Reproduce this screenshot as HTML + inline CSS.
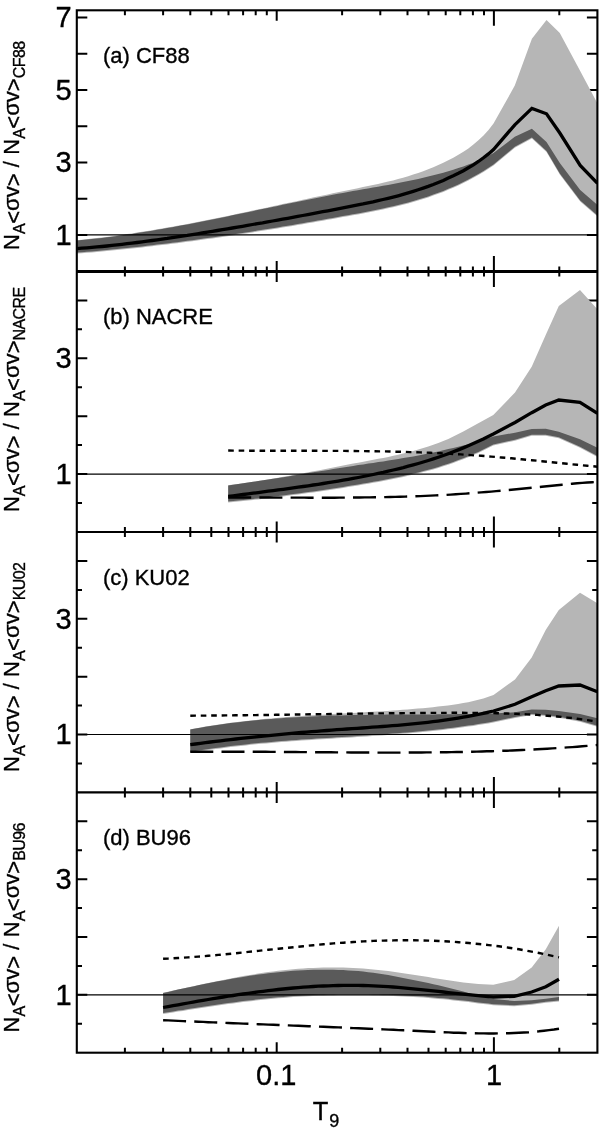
<!DOCTYPE html>
<html lang="en"><head><meta charset="utf-8"><title>Reaction rate ratios</title>
<style>html,body{margin:0;padding:0;background:#fff}svg{display:block}</style></head>
<body>
<svg width="600" height="1131" viewBox="0 0 600 1131">
<rect width="600" height="1131" fill="#fff"/>
<defs><clipPath id="cp"><rect x="76.8" y="10.3" width="520.6" height="1042.4"/></clipPath></defs>
<path d="M276.7 10.3L276.7 20.8M493.9 10.3L493.9 25.8M124.9 10.3L124.9 15.3M163.1 10.3L163.1 15.3M190.3 10.3L190.3 15.3M211.3 10.3L211.3 15.3M228.5 10.3L228.5 15.3M243.1 10.3L243.1 15.3M255.7 10.3L255.7 15.3M266.8 10.3L266.8 15.3M342.1 10.3L342.1 15.3M380.3 10.3L380.3 15.3M407.5 10.3L407.5 15.3M428.5 10.3L428.5 15.3M445.7 10.3L445.7 15.3M460.3 10.3L460.3 15.3M472.9 10.3L472.9 15.3M484.0 10.3L484.0 15.3M559.3 10.3L559.3 15.3M276.7 260.9L276.7 281.9M493.9 255.9L493.9 286.9M124.9 266.4L124.9 276.4M163.1 266.4L163.1 276.4M190.3 266.4L190.3 276.4M211.3 266.4L211.3 276.4M228.5 266.4L228.5 276.4M243.1 266.4L243.1 276.4M255.7 266.4L255.7 276.4M266.8 266.4L266.8 276.4M342.1 266.4L342.1 276.4M380.3 266.4L380.3 276.4M407.5 266.4L407.5 276.4M428.5 266.4L428.5 276.4M445.7 266.4L445.7 276.4M460.3 266.4L460.3 276.4M472.9 266.4L472.9 276.4M484.0 266.4L484.0 276.4M559.3 266.4L559.3 276.4M276.7 521.5L276.7 542.5M493.9 516.5L493.9 547.5M124.9 527.0L124.9 537.0M163.1 527.0L163.1 537.0M190.3 527.0L190.3 537.0M211.3 527.0L211.3 537.0M228.5 527.0L228.5 537.0M243.1 527.0L243.1 537.0M255.7 527.0L255.7 537.0M266.8 527.0L266.8 537.0M342.1 527.0L342.1 537.0M380.3 527.0L380.3 537.0M407.5 527.0L407.5 537.0M428.5 527.0L428.5 537.0M445.7 527.0L445.7 537.0M460.3 527.0L460.3 537.0M472.9 527.0L472.9 537.0M484.0 527.0L484.0 537.0M559.3 527.0L559.3 537.0M276.7 781.9L276.7 802.9M493.9 776.9L493.9 807.9M124.9 787.4L124.9 797.4M163.1 787.4L163.1 797.4M190.3 787.4L190.3 797.4M211.3 787.4L211.3 797.4M228.5 787.4L228.5 797.4M243.1 787.4L243.1 797.4M255.7 787.4L255.7 797.4M266.8 787.4L266.8 797.4M342.1 787.4L342.1 797.4M380.3 787.4L380.3 797.4M407.5 787.4L407.5 797.4M428.5 787.4L428.5 797.4M445.7 787.4L445.7 797.4M460.3 787.4L460.3 797.4M472.9 787.4L472.9 797.4M484.0 787.4L484.0 797.4M559.3 787.4L559.3 797.4M276.7 1042.2L276.7 1052.7M493.9 1037.2L493.9 1052.7M124.9 1047.7L124.9 1052.7M163.1 1047.7L163.1 1052.7M190.3 1047.7L190.3 1052.7M211.3 1047.7L211.3 1052.7M228.5 1047.7L228.5 1052.7M243.1 1047.7L243.1 1052.7M255.7 1047.7L255.7 1052.7M266.8 1047.7L266.8 1052.7M342.1 1047.7L342.1 1052.7M380.3 1047.7L380.3 1052.7M407.5 1047.7L407.5 1052.7M428.5 1047.7L428.5 1052.7M445.7 1047.7L445.7 1052.7M460.3 1047.7L460.3 1052.7M472.9 1047.7L472.9 1052.7M484.0 1047.7L484.0 1052.7M559.3 1047.7L559.3 1052.7M76.8 234.9L87.3 234.9M597.4 234.9L586.9 234.9M76.8 198.7L87.3 198.7M597.4 198.7L586.9 198.7M76.8 162.4L87.3 162.4M597.4 162.4L586.9 162.4M76.8 126.2L87.3 126.2M597.4 126.2L586.9 126.2M76.8 89.9L87.3 89.9M597.4 89.9L586.9 89.9M76.8 53.7L87.3 53.7M597.4 53.7L586.9 53.7M76.8 17.4L87.3 17.4M597.4 17.4L586.9 17.4M76.8 503.0L82.0 503.0M597.4 503.0L592.2 503.0M76.8 474.1L87.3 474.1M597.4 474.1L586.9 474.1M76.8 445.1L82.0 445.1M597.4 445.1L592.2 445.1M76.8 416.2L87.3 416.2M597.4 416.2L586.9 416.2M76.8 387.2L82.0 387.2M597.4 387.2L592.2 387.2M76.8 358.3L87.3 358.3M597.4 358.3L586.9 358.3M76.8 329.3L82.0 329.3M597.4 329.3L592.2 329.3M76.8 300.4L87.3 300.4M597.4 300.4L586.9 300.4M76.8 763.5L82.0 763.5M597.4 763.5L592.2 763.5M76.8 734.5L87.3 734.5M597.4 734.5L586.9 734.5M76.8 705.6L82.0 705.6M597.4 705.6L592.2 705.6M76.8 676.7L87.3 676.7M597.4 676.7L586.9 676.7M76.8 647.7L82.0 647.7M597.4 647.7L592.2 647.7M76.8 618.8L87.3 618.8M597.4 618.8L586.9 618.8M76.8 589.9L82.0 589.9M597.4 589.9L592.2 589.9M76.8 560.9L87.3 560.9M597.4 560.9L586.9 560.9M76.8 1023.7L82.0 1023.7M597.4 1023.7L592.2 1023.7M76.8 994.8L87.3 994.8M597.4 994.8L586.9 994.8M76.8 965.9L82.0 965.9M597.4 965.9L592.2 965.9M76.8 937.0L87.3 937.0M597.4 937.0L586.9 937.0M76.8 908.1L82.0 908.1M597.4 908.1L592.2 908.1M76.8 879.2L87.3 879.2M597.4 879.2L586.9 879.2M76.8 850.2L82.0 850.2M597.4 850.2L592.2 850.2M76.8 821.3L87.3 821.3M597.4 821.3L586.9 821.3" stroke="#000" stroke-width="2" fill="none"/>
<g clip-path="url(#cp)">
<polygon points="76.8,240.2 81.8,239.7 86.8,239.2 91.9,238.6 96.9,238.1 101.9,237.5 106.9,236.9 111.9,236.2 117.0,235.5 122.0,234.8 127.0,234.1 132.0,233.4 137.0,232.6 142.1,231.8 147.1,231.0 152.1,230.2 157.1,229.3 162.1,228.5 167.2,227.6 172.2,226.7 177.2,225.8 182.2,224.9 187.3,223.9 192.3,222.9 197.3,222.0 202.3,221.0 207.3,220.0 212.4,219.0 217.4,218.0 222.4,216.9 227.4,215.9 232.4,214.9 237.5,213.8 242.5,212.7 247.5,211.7 252.5,210.6 257.5,209.5 262.6,208.5 267.6,207.4 272.6,206.3 277.6,205.2 282.6,204.1 287.7,203.0 292.7,201.9 297.7,200.9 302.7,199.8 307.7,198.7 312.8,197.6 317.8,196.5 322.8,195.5 327.8,194.4 332.8,193.3 337.9,192.3 342.9,191.3 347.9,190.2 352.9,189.2 357.9,188.2 363.0,187.1 368.0,186.1 373.0,185.0 378.0,183.9 383.0,182.8 388.1,181.6 393.1,180.4 398.1,179.1 403.1,177.7 408.2,176.2 413.2,174.6 418.2,173.0 423.2,171.2 428.2,169.3 433.3,167.3 438.3,165.1 443.3,162.8 448.3,160.3 453.3,157.7 458.4,154.8 463.4,151.8 468.4,148.4 473.4,144.6 478.4,140.3 483.5,135.4 488.5,129.9 493.5,123.5 514.8,85.6 531.9,38.8 546.5,20.0 559.8,33.0 580.2,71.0 597.5,103.5 597.5,216.5 580.2,201.5 559.8,174.5 546.5,152.0 531.9,138.6 514.8,147.8 493.5,165.5 488.5,168.8 483.5,171.9 478.4,174.9 473.4,177.7 468.4,180.4 463.4,183.0 458.4,185.4 453.3,187.7 448.3,189.8 443.3,191.9 438.3,193.8 433.3,195.6 428.2,197.4 423.2,199.0 418.2,200.5 413.2,202.0 408.2,203.4 403.1,204.7 398.1,206.0 393.1,207.2 388.1,208.3 383.0,209.4 378.0,210.5 373.0,211.5 368.0,212.5 363.0,213.4 357.9,214.4 352.9,215.3 347.9,216.2 342.9,217.1 337.9,218.0 332.8,218.9 327.8,219.8 322.8,220.7 317.8,221.6 312.8,222.5 307.7,223.3 302.7,224.2 297.7,225.0 292.7,225.9 287.7,226.7 282.6,227.6 277.6,228.4 272.6,229.2 267.6,230.0 262.6,230.8 257.5,231.6 252.5,232.4 247.5,233.2 242.5,234.0 237.5,234.7 232.4,235.5 227.4,236.2 222.4,237.0 217.4,237.7 212.4,238.4 207.3,239.1 202.3,239.8 197.3,240.5 192.3,241.2 187.3,241.8 182.2,242.5 177.2,243.2 172.2,243.8 167.2,244.4 162.1,245.0 157.1,245.6 152.1,246.2 147.1,246.8 142.1,247.4 137.0,247.9 132.0,248.5 127.0,249.0 122.0,249.5 117.0,250.0 111.9,250.5 106.9,251.0 101.9,251.5 96.9,251.9 91.9,252.4 86.8,252.8 81.8,253.2 76.8,253.6" fill="#b6b6b6"/>
<polygon points="76.8,240.5 81.8,240.0 86.8,239.5 91.9,239.0 96.9,238.5 101.9,237.9 106.9,237.3 111.9,236.7 117.0,236.0 122.0,235.3 127.0,234.6 132.0,233.9 137.0,233.1 142.1,232.3 147.1,231.5 152.1,230.7 157.1,229.8 162.1,229.0 167.2,228.1 172.2,227.2 177.2,226.3 182.2,225.3 187.3,224.4 192.3,223.4 197.3,222.4 202.3,221.5 207.3,220.5 212.4,219.5 217.4,218.4 222.4,217.4 227.4,216.4 232.4,215.3 237.5,214.3 242.5,213.3 247.5,212.2 252.5,211.2 257.5,210.1 262.6,209.0 267.6,208.0 272.6,206.9 277.6,205.9 282.6,204.8 287.7,203.8 292.7,202.8 297.7,201.7 302.7,200.7 307.7,199.7 312.8,198.7 317.8,197.7 322.8,196.7 327.8,195.7 332.8,194.8 337.9,193.8 342.9,192.9 347.9,192.0 352.9,191.1 357.9,190.2 363.0,189.3 368.0,188.4 373.0,187.5 378.0,186.7 383.0,185.8 388.1,184.9 393.1,184.0 398.1,183.0 403.1,182.0 408.2,181.0 413.2,180.0 418.2,178.9 423.2,177.8 428.2,176.6 433.3,175.3 438.3,174.0 443.3,172.7 448.3,171.2 453.3,169.7 458.4,168.1 463.4,166.4 468.4,164.6 473.4,162.7 478.4,160.6 483.5,158.3 488.5,155.8 493.5,153.0 514.8,136.8 531.9,128.7 546.5,142.0 559.8,163.0 580.2,190.0 597.5,205.0 597.5,215.5 580.2,200.5 559.8,173.5 546.5,151.0 531.9,137.6 514.8,146.8 493.5,164.5 488.5,167.8 483.5,170.9 478.4,173.9 473.4,176.7 468.4,179.4 463.4,182.0 458.4,184.4 453.3,186.7 448.3,188.8 443.3,190.9 438.3,192.8 433.3,194.6 428.2,196.4 423.2,198.0 418.2,199.5 413.2,201.0 408.2,202.4 403.1,203.7 398.1,205.0 393.1,206.2 388.1,207.3 383.0,208.4 378.0,209.5 373.0,210.5 368.0,211.5 363.0,212.4 357.9,213.4 352.9,214.3 347.9,215.2 342.9,216.1 337.9,217.0 332.8,217.9 327.8,218.8 322.8,219.7 317.8,220.6 312.8,221.5 307.7,222.3 302.7,223.2 297.7,224.0 292.7,224.9 287.7,225.7 282.6,226.6 277.6,227.4 272.6,228.2 267.6,229.0 262.6,229.8 257.5,230.6 252.5,231.4 247.5,232.2 242.5,233.0 237.5,233.7 232.4,234.5 227.4,235.2 222.4,236.0 217.4,236.7 212.4,237.4 207.3,238.1 202.3,238.8 197.3,239.5 192.3,240.2 187.3,240.8 182.2,241.5 177.2,242.2 172.2,242.8 167.2,243.4 162.1,244.0 157.1,244.6 152.1,245.2 147.1,245.8 142.1,246.4 137.0,246.9 132.0,247.5 127.0,248.0 122.0,248.5 117.0,249.0 111.9,249.5 106.9,250.0 101.9,250.5 96.9,250.9 91.9,251.4 86.8,251.8 81.8,252.2 76.8,252.6" fill="#5a5a5a"/>
<line x1="76.8" x2="597.4" y1="234.9" y2="234.9" stroke="#000" stroke-width="1.2"/>
<polyline points="76.8,248.6 81.8,248.2 86.8,247.8 91.9,247.4 96.9,246.9 101.9,246.5 106.9,246.0 111.9,245.4 117.0,244.9 122.0,244.3 127.0,243.7 132.0,243.1 137.0,242.5 142.1,241.9 147.1,241.2 152.1,240.5 157.1,239.8 162.1,239.1 167.2,238.4 172.2,237.6 177.2,236.9 182.2,236.1 187.3,235.4 192.3,234.6 197.3,233.8 202.3,233.0 207.3,232.2 212.4,231.3 217.4,230.5 222.4,229.7 227.4,228.8 232.4,228.0 237.5,227.1 242.5,226.3 247.5,225.4 252.5,224.5 257.5,223.6 262.6,222.8 267.6,221.9 272.6,221.0 277.6,220.1 282.6,219.2 287.7,218.3 292.7,217.4 297.7,216.4 302.7,215.5 307.7,214.6 312.8,213.6 317.8,212.7 322.8,211.7 327.8,210.8 332.8,209.8 337.9,208.8 342.9,207.9 347.9,206.9 352.9,205.9 357.9,204.9 363.0,203.9 368.0,202.8 373.0,201.8 378.0,200.6 383.0,199.5 388.1,198.3 393.1,197.1 398.1,195.8 403.1,194.4 408.2,192.9 413.2,191.4 418.2,189.8 423.2,188.1 428.2,186.4 433.3,184.5 438.3,182.5 443.3,180.4 448.3,178.1 453.3,175.8 458.4,173.3 463.4,170.7 468.4,167.8 473.4,164.8 478.4,161.5 483.5,157.8 488.5,153.9 493.5,149.5 514.8,124.8 531.9,108.4 546.5,113.8 559.8,133.0 580.2,165.4 597.5,183.4" fill="none" stroke="#000" stroke-width="3.3" stroke-linejoin="miter"/>
<polygon points="228.2,485.2 233.2,484.6 238.2,483.9 243.2,483.2 248.2,482.5 253.2,481.8 258.2,481.0 263.2,480.2 268.2,479.4 273.2,478.5 278.2,477.7 283.2,476.8 288.2,475.9 293.2,475.0 298.2,474.1 303.2,473.2 308.2,472.3 313.2,471.3 318.2,470.4 323.2,469.4 328.2,468.5 333.2,467.5 338.2,466.5 343.2,465.6 348.2,464.6 353.2,463.6 358.2,462.7 363.3,461.7 368.3,460.7 373.3,459.8 378.3,458.8 383.3,457.9 388.3,456.9 393.3,455.8 398.3,454.7 403.3,453.5 408.3,452.2 413.3,450.9 418.3,449.5 423.3,448.0 428.3,446.4 433.3,444.7 438.3,442.9 443.3,441.0 448.3,438.9 453.3,436.6 458.3,434.1 463.3,431.5 468.3,428.8 473.3,426.1 478.3,423.3 483.3,420.5 488.3,417.7 493.3,415.0 515.0,392.5 531.7,366.7 545.7,335.0 558.8,306.0 580.0,290.0 597.4,309.3 597.4,457.0 580.0,447.7 558.8,438.3 545.7,435.7 531.7,435.7 515.0,440.7 493.3,445.5 488.3,448.1 483.3,450.5 478.3,452.9 473.3,455.1 468.3,457.2 463.3,459.2 458.3,461.1 453.3,463.0 448.3,464.7 443.3,466.3 438.3,467.9 433.3,469.4 428.3,470.8 423.3,472.1 418.3,473.4 413.3,474.6 408.3,475.8 403.3,476.9 398.3,478.0 393.3,479.0 388.3,480.0 383.3,481.0 378.3,481.9 373.3,482.8 368.3,483.7 363.3,484.6 358.2,485.4 353.2,486.3 348.2,487.1 343.2,487.9 338.2,488.7 333.2,489.5 328.2,490.2 323.2,491.0 318.2,491.7 313.2,492.4 308.2,493.1 303.2,493.8 298.2,494.5 293.2,495.1 288.2,495.8 283.2,496.4 278.2,497.0 273.2,497.6 268.2,498.2 263.2,498.8 258.2,499.4 253.2,499.9 248.2,500.5 243.2,501.0 238.2,501.5 233.2,502.0 228.2,502.5" fill="#b6b6b6"/>
<polygon points="228.2,485.5 233.2,484.8 238.2,484.1 243.2,483.3 248.2,482.6 253.2,481.8 258.2,481.1 263.2,480.3 268.2,479.5 273.2,478.7 278.2,478.0 283.2,477.2 288.2,476.4 293.2,475.6 298.2,474.8 303.2,473.9 308.2,473.1 313.2,472.3 318.2,471.5 323.2,470.7 328.2,469.9 333.2,469.1 338.2,468.3 343.2,467.5 348.2,466.7 353.2,465.9 358.2,465.1 363.3,464.4 368.3,463.6 373.3,462.9 378.3,462.1 383.3,461.4 388.3,460.6 393.3,459.8 398.3,459.0 403.3,458.1 408.3,457.3 413.3,456.4 418.3,455.4 423.3,454.4 428.3,453.4 433.3,452.4 438.3,451.4 443.3,450.3 448.3,449.1 453.3,448.0 458.3,446.8 463.3,445.6 468.3,444.3 473.3,442.9 478.3,441.5 483.3,439.9 488.3,438.3 493.3,436.5 515.0,432.7 531.7,429.0 545.7,428.7 558.8,431.7 580.0,439.3 597.4,447.7 597.4,456.0 580.0,446.7 558.8,437.3 545.7,434.7 531.7,434.7 515.0,439.7 493.3,444.5 488.3,447.1 483.3,449.5 478.3,451.9 473.3,454.1 468.3,456.2 463.3,458.2 458.3,460.1 453.3,462.0 448.3,463.7 443.3,465.3 438.3,466.9 433.3,468.4 428.3,469.8 423.3,471.1 418.3,472.4 413.3,473.6 408.3,474.8 403.3,475.9 398.3,477.0 393.3,478.0 388.3,479.0 383.3,480.0 378.3,480.9 373.3,481.8 368.3,482.7 363.3,483.6 358.2,484.4 353.2,485.3 348.2,486.1 343.2,486.9 338.2,487.7 333.2,488.5 328.2,489.2 323.2,490.0 318.2,490.7 313.2,491.4 308.2,492.1 303.2,492.8 298.2,493.5 293.2,494.1 288.2,494.8 283.2,495.4 278.2,496.0 273.2,496.6 268.2,497.2 263.2,497.8 258.2,498.4 253.2,498.9 248.2,499.5 243.2,500.0 238.2,500.5 233.2,501.0 228.2,501.5" fill="#5a5a5a"/>
<line x1="76.8" x2="597.4" y1="474.1" y2="474.1" stroke="#000" stroke-width="1.2"/>
<polyline points="228.2,450.5 233.3,450.6 238.3,450.6 243.4,450.6 248.4,450.7 253.5,450.7 258.5,450.7 263.6,450.8 268.7,450.8 273.7,450.8 278.8,450.8 283.8,450.8 288.9,450.8 293.9,450.8 299.0,450.8 304.1,450.8 309.1,450.8 314.2,450.8 319.2,450.8 324.3,450.9 329.4,450.9 334.4,450.9 339.5,450.9 344.5,450.9 349.6,451.0 354.6,451.0 359.7,451.1 364.8,451.1 369.8,451.2 374.9,451.3 379.9,451.4 385.0,451.4 390.0,451.5 395.1,451.7 400.2,451.8 405.2,451.9 410.3,452.1 415.3,452.2 420.4,452.4 425.4,452.6 430.5,452.8 435.6,453.1 440.6,453.3 445.7,453.6 450.7,453.8 455.8,454.1 460.8,454.4 465.9,454.8 471.0,455.1 476.0,455.5 481.1,455.8 486.1,456.2 491.2,456.6 496.2,457.0 501.3,457.5 506.4,457.9 511.4,458.3 516.5,458.8 521.5,459.3 526.6,459.8 531.7,460.2 536.7,460.7 541.8,461.2 546.8,461.7 551.9,462.2 556.9,462.7 562.0,463.3 567.1,463.8 572.1,464.3 577.2,464.8 582.2,465.3 587.3,465.7 592.3,466.2 597.4,466.7" fill="none" stroke="#000" stroke-width="2.4" stroke-linejoin="miter" stroke-dasharray="5.6 4.85"/>
<polyline points="228.2,497.5 233.3,497.5 238.3,497.5 243.4,497.5 248.4,497.5 253.5,497.5 258.5,497.5 263.6,497.5 268.7,497.5 273.7,497.6 278.8,497.6 283.8,497.6 288.9,497.6 293.9,497.6 299.0,497.6 304.1,497.6 309.1,497.7 314.2,497.7 319.2,497.7 324.3,497.7 329.4,497.7 334.4,497.7 339.5,497.6 344.5,497.6 349.6,497.6 354.6,497.5 359.7,497.5 364.8,497.4 369.8,497.4 374.9,497.3 379.9,497.2 385.0,497.1 390.0,497.0 395.1,496.9 400.2,496.7 405.2,496.6 410.3,496.4 415.3,496.3 420.4,496.1 425.4,495.9 430.5,495.6 435.6,495.4 440.6,495.1 445.7,494.9 450.7,494.6 455.8,494.2 460.8,493.9 465.9,493.6 471.0,493.2 476.0,492.8 481.1,492.4 486.1,492.0 491.2,491.6 496.2,491.1 501.3,490.7 506.4,490.2 511.4,489.8 516.5,489.3 521.5,488.8 526.6,488.3 531.7,487.8 536.7,487.3 541.8,486.8 546.8,486.2 551.9,485.7 556.9,485.2 562.0,484.7 567.1,484.2 572.1,483.7 577.2,483.3 582.2,482.9 587.3,482.5 592.3,482.2 597.4,481.9" fill="none" stroke="#000" stroke-width="2.4" stroke-linejoin="miter" stroke-dasharray="23 8.2"/>
<polyline points="228.2,496.5 233.2,495.8 238.2,495.2 243.2,494.5 248.2,493.9 253.2,493.2 258.2,492.6 263.2,491.9 268.2,491.2 273.2,490.6 278.2,489.9 283.2,489.3 288.2,488.6 293.2,487.9 298.2,487.2 303.2,486.5 308.2,485.8 313.2,485.0 318.2,484.3 323.2,483.5 328.2,482.7 333.2,481.9 338.2,481.1 343.2,480.2 348.2,479.3 353.2,478.4 358.2,477.5 363.3,476.5 368.3,475.5 373.3,474.5 378.3,473.4 383.3,472.4 388.3,471.2 393.3,470.0 398.3,468.8 403.3,467.6 408.3,466.2 413.3,464.9 418.3,463.5 423.3,462.0 428.3,460.5 433.3,458.9 438.3,457.2 443.3,455.5 448.3,453.7 453.3,451.8 458.3,449.9 463.3,447.9 468.3,445.8 473.3,443.6 478.3,441.3 483.3,439.0 488.3,436.5 493.3,434.0 515.0,422.5 531.7,412.7 545.7,405.0 558.8,400.0 580.0,402.3 597.4,413.3" fill="none" stroke="#000" stroke-width="3.3" stroke-linejoin="miter"/>
<polygon points="190.3,729.3 195.4,728.4 200.4,727.5 205.5,726.6 210.5,725.8 215.6,725.0 220.6,724.2 225.7,723.5 230.7,722.8 235.8,722.2 240.8,721.6 245.9,721.0 250.9,720.4 256.0,719.9 261.0,719.3 266.1,718.8 271.2,718.4 276.2,717.9 281.3,717.5 286.3,717.1 291.4,716.7 296.4,716.3 301.5,716.0 306.5,715.6 311.6,715.3 316.6,715.0 321.7,714.7 326.7,714.4 331.8,714.1 336.8,713.8 341.9,713.5 347.0,713.2 352.0,712.9 357.1,712.7 362.1,712.4 367.2,712.1 372.2,711.8 377.3,711.5 382.3,711.2 387.4,710.9 392.4,710.6 397.5,710.2 402.5,709.8 407.6,709.5 412.6,709.1 417.7,708.6 422.8,708.2 427.8,707.7 432.9,707.2 437.9,706.6 443.0,706.1 448.0,705.4 453.1,704.8 458.1,704.0 463.2,703.1 468.2,702.2 473.3,701.1 478.3,699.8 483.4,698.4 488.4,696.8 493.5,695.0 515.0,679.5 531.7,657.5 545.7,630.0 558.8,610.0 580.0,592.7 597.4,603.3 597.4,726.7 580.0,721.7 558.8,717.7 545.7,716.0 531.7,715.0 515.0,718.0 493.5,722.5 488.4,723.4 483.4,724.3 478.3,725.1 473.3,725.9 468.2,726.6 463.2,727.3 458.1,728.0 453.1,728.7 448.0,729.3 443.0,729.9 437.9,730.5 432.9,731.0 427.8,731.5 422.8,732.0 417.7,732.5 412.6,733.0 407.6,733.4 402.5,733.8 397.5,734.3 392.4,734.6 387.4,735.0 382.3,735.4 377.3,735.7 372.2,736.1 367.2,736.4 362.1,736.8 357.1,737.1 352.0,737.4 347.0,737.7 341.9,738.0 336.8,738.3 331.8,738.7 326.7,739.0 321.7,739.3 316.6,739.6 311.6,739.9 306.5,740.3 301.5,740.6 296.4,741.0 291.4,741.3 286.3,741.7 281.3,742.1 276.2,742.5 271.2,742.9 266.1,743.4 261.0,743.8 256.0,744.3 250.9,744.8 245.9,745.4 240.8,745.9 235.8,746.5 230.7,747.1 225.7,747.7 220.6,748.4 215.6,749.0 210.5,749.8 205.5,750.5 200.4,751.3 195.4,752.1 190.3,753.0" fill="#b6b6b6"/>
<polygon points="190.3,729.5 195.4,728.6 200.4,727.7 205.5,726.8 210.5,726.0 215.6,725.2 220.6,724.5 225.7,723.8 230.7,723.1 235.8,722.5 240.8,721.9 245.9,721.3 250.9,720.8 256.0,720.3 261.0,719.8 266.1,719.3 271.2,718.9 276.2,718.5 281.3,718.2 286.3,717.8 291.4,717.5 296.4,717.2 301.5,716.9 306.5,716.7 311.6,716.4 316.6,716.2 321.7,716.0 326.7,715.8 331.8,715.6 336.8,715.5 341.9,715.4 347.0,715.2 352.0,715.1 357.1,715.0 362.1,714.9 367.2,714.9 372.2,714.8 377.3,714.7 382.3,714.7 387.4,714.6 392.4,714.6 397.5,714.6 402.5,714.5 407.6,714.5 412.6,714.5 417.7,714.4 422.8,714.4 427.8,714.4 432.9,714.4 437.9,714.3 443.0,714.3 448.0,714.2 453.1,714.2 458.1,714.1 463.2,714.1 468.2,714.0 473.3,713.9 478.3,713.8 483.4,713.7 488.4,713.6 493.5,713.5 515.0,712.3 531.7,709.5 545.7,709.7 558.8,711.0 580.0,714.0 597.4,718.3 597.4,725.7 580.0,720.7 558.8,716.7 545.7,715.0 531.7,714.0 515.0,717.0 493.5,721.5 488.4,722.4 483.4,723.3 478.3,724.1 473.3,724.9 468.2,725.6 463.2,726.3 458.1,727.0 453.1,727.7 448.0,728.3 443.0,728.9 437.9,729.5 432.9,730.0 427.8,730.5 422.8,731.0 417.7,731.5 412.6,732.0 407.6,732.4 402.5,732.8 397.5,733.3 392.4,733.6 387.4,734.0 382.3,734.4 377.3,734.7 372.2,735.1 367.2,735.4 362.1,735.8 357.1,736.1 352.0,736.4 347.0,736.7 341.9,737.0 336.8,737.3 331.8,737.7 326.7,738.0 321.7,738.3 316.6,738.6 311.6,738.9 306.5,739.3 301.5,739.6 296.4,740.0 291.4,740.3 286.3,740.7 281.3,741.1 276.2,741.5 271.2,741.9 266.1,742.4 261.0,742.8 256.0,743.3 250.9,743.8 245.9,744.4 240.8,744.9 235.8,745.5 230.7,746.1 225.7,746.7 220.6,747.4 215.6,748.0 210.5,748.8 205.5,749.5 200.4,750.3 195.4,751.1 190.3,752.0" fill="#5a5a5a"/>
<line x1="76.8" x2="597.4" y1="734.5" y2="734.5" stroke="#000" stroke-width="1.2"/>
<polyline points="190.3,715.7 195.3,715.6 200.4,715.6 205.4,715.6 210.4,715.5 215.4,715.5 220.5,715.5 225.5,715.4 230.5,715.4 235.5,715.3 240.6,715.3 245.6,715.2 250.6,715.1 255.6,715.1 260.7,715.0 265.7,715.0 270.7,714.9 275.7,714.8 280.8,714.8 285.8,714.7 290.8,714.6 295.8,714.5 300.9,714.5 305.9,714.4 310.9,714.3 315.9,714.3 321.0,714.2 326.0,714.1 331.0,714.0 336.1,714.0 341.1,713.9 346.1,713.8 351.1,713.8 356.2,713.7 361.2,713.6 366.2,713.6 371.2,713.5 376.3,713.4 381.3,713.4 386.3,713.3 391.3,713.3 396.4,713.2 401.4,713.2 406.4,713.1 411.4,713.1 416.5,713.0 421.5,713.0 426.5,713.0 431.5,712.9 436.6,712.9 441.6,712.9 446.6,712.9 451.6,712.8 456.7,712.8 461.7,712.8 466.7,712.9 471.8,712.9 476.8,712.9 481.8,713.0 486.8,713.0 491.9,713.1 496.9,713.2 501.9,713.4 506.9,713.5 512.0,713.7 517.0,713.9 522.0,714.1 527.0,714.4 532.1,714.6 537.1,714.9 542.1,715.3 547.1,715.7 552.2,716.1 557.2,716.5 562.2,717.0 567.2,717.6 572.3,718.1 577.3,718.8 582.3,719.4 587.3,720.1 592.4,720.9 597.4,721.7" fill="none" stroke="#000" stroke-width="2.4" stroke-linejoin="miter" stroke-dasharray="5.6 4.85"/>
<polyline points="190.3,751.8 195.3,751.8 200.4,751.7 205.4,751.7 210.4,751.7 215.4,751.7 220.5,751.7 225.5,751.7 230.5,751.7 235.5,751.7 240.6,751.7 245.6,751.7 250.6,751.7 255.6,751.8 260.7,751.8 265.7,751.8 270.7,751.9 275.7,751.9 280.8,751.9 285.8,752.0 290.8,752.0 295.8,752.0 300.9,752.1 305.9,752.1 310.9,752.2 315.9,752.2 321.0,752.2 326.0,752.3 331.0,752.3 336.1,752.4 341.1,752.4 346.1,752.4 351.1,752.5 356.2,752.5 361.2,752.5 366.2,752.5 371.2,752.5 376.3,752.6 381.3,752.6 386.3,752.6 391.3,752.6 396.4,752.6 401.4,752.6 406.4,752.6 411.4,752.5 416.5,752.5 421.5,752.5 426.5,752.4 431.5,752.4 436.6,752.3 441.6,752.3 446.6,752.2 451.6,752.1 456.7,752.0 461.7,752.0 466.7,751.8 471.8,751.7 476.8,751.6 481.8,751.5 486.8,751.3 491.9,751.2 496.9,751.0 501.9,750.8 506.9,750.7 512.0,750.5 517.0,750.3 522.0,750.0 527.0,749.8 532.1,749.5 537.1,749.3 542.1,749.0 547.1,748.7 552.2,748.4 557.2,748.1 562.2,747.8 567.2,747.4 572.3,747.1 577.3,746.7 582.3,746.3 587.3,745.9 592.4,745.4 597.4,745.0" fill="none" stroke="#000" stroke-width="2.4" stroke-linejoin="miter" stroke-dasharray="23 8.2"/>
<polyline points="190.3,744.7 195.4,744.0 200.4,743.3 205.5,742.7 210.5,742.0 215.6,741.4 220.6,740.8 225.7,740.2 230.7,739.6 235.8,739.0 240.8,738.4 245.9,737.9 250.9,737.3 256.0,736.8 261.0,736.3 266.1,735.8 271.2,735.3 276.2,734.8 281.3,734.3 286.3,733.8 291.4,733.4 296.4,732.9 301.5,732.5 306.5,732.1 311.6,731.7 316.6,731.3 321.7,730.9 326.7,730.5 331.8,730.1 336.8,729.7 341.9,729.4 347.0,729.0 352.0,728.7 357.1,728.3 362.1,728.0 367.2,727.6 372.2,727.2 377.3,726.9 382.3,726.5 387.4,726.1 392.4,725.7 397.5,725.3 402.5,724.8 407.6,724.4 412.6,723.9 417.7,723.4 422.8,722.9 427.8,722.3 432.9,721.7 437.9,721.1 443.0,720.4 448.0,719.7 453.1,718.9 458.1,718.1 463.2,717.2 468.2,716.3 473.3,715.4 478.3,714.4 483.4,713.3 488.4,712.2 493.5,711.0 515.0,704.3 531.7,696.7 545.7,690.7 558.8,686.0 580.0,685.0 597.4,691.7" fill="none" stroke="#000" stroke-width="3.3" stroke-linejoin="miter"/>
<polygon points="163.1,992.8 168.1,991.7 173.1,990.6 178.1,989.5 183.1,988.4 188.1,987.3 193.1,986.2 198.1,985.2 203.1,984.1 208.1,983.0 213.1,982.0 218.1,980.9 223.1,979.9 228.1,978.9 233.1,978.0 238.1,977.0 243.1,976.1 248.2,975.2 253.2,974.4 258.2,973.6 263.2,972.8 268.2,972.1 273.2,971.4 278.2,970.8 283.2,970.2 288.2,969.7 293.2,969.2 298.2,968.8 303.2,968.4 308.2,968.1 313.2,967.9 318.2,967.7 323.2,967.5 328.2,967.5 333.2,967.4 338.2,967.5 343.2,967.6 348.2,967.7 353.2,967.9 358.2,968.2 363.2,968.5 368.2,968.9 373.2,969.4 378.2,969.9 383.2,970.5 388.2,971.1 393.2,971.8 398.2,972.4 403.2,973.2 408.2,973.9 413.3,974.7 418.3,975.5 423.3,976.3 428.3,977.1 433.3,977.9 438.3,978.7 443.3,979.5 448.3,980.3 453.3,981.0 458.3,981.7 463.3,982.4 468.3,983.0 473.3,983.5 478.3,984.0 483.3,984.3 488.3,984.6 493.3,984.7 514.2,980.0 531.7,967.5 545.8,949.2 559.0,925.8 559.0,1001.4 545.8,1002.7 531.7,1004.7 514.2,1006.3 493.3,1005.2 488.3,1004.6 483.3,1004.0 478.3,1003.4 473.3,1002.8 468.3,1002.1 463.3,1001.5 458.3,1000.9 453.3,1000.4 448.3,999.8 443.3,999.3 438.3,998.9 433.3,998.4 428.3,998.0 423.3,997.6 418.3,997.3 413.3,997.0 408.2,996.7 403.2,996.4 398.2,996.2 393.2,996.0 388.2,995.8 383.2,995.7 378.2,995.5 373.2,995.4 368.2,995.3 363.2,995.3 358.2,995.2 353.2,995.2 348.2,995.2 343.2,995.3 338.2,995.3 333.2,995.4 328.2,995.5 323.2,995.7 318.2,995.8 313.2,996.0 308.2,996.3 303.2,996.5 298.2,996.8 293.2,997.1 288.2,997.5 283.2,997.9 278.2,998.3 273.2,998.8 268.2,999.2 263.2,999.8 258.2,1000.3 253.2,1000.9 248.2,1001.5 243.1,1002.1 238.1,1002.8 233.1,1003.4 228.1,1004.1 223.1,1004.8 218.1,1005.5 213.1,1006.3 208.1,1007.0 203.1,1007.8 198.1,1008.5 193.1,1009.3 188.1,1010.1 183.1,1010.9 178.1,1011.6 173.1,1012.4 168.1,1013.2 163.1,1014.0" fill="#b6b6b6"/>
<polygon points="163.1,993.0 168.1,991.9 173.1,990.8 178.1,989.6 183.1,988.5 188.1,987.5 193.1,986.4 198.1,985.3 203.1,984.3 208.1,983.3 213.1,982.3 218.1,981.3 223.1,980.4 228.1,979.4 233.1,978.5 238.1,977.7 243.1,976.9 248.2,976.1 253.2,975.3 258.2,974.6 263.2,973.9 268.2,973.3 273.2,972.7 278.2,972.2 283.2,971.7 288.2,971.2 293.2,970.8 298.2,970.5 303.2,970.2 308.2,970.0 313.2,969.8 318.2,969.7 323.2,969.7 328.2,969.7 333.2,969.7 338.2,969.9 343.2,970.1 348.2,970.4 353.2,970.7 358.2,971.1 363.2,971.6 368.2,972.2 373.2,972.8 378.2,973.5 383.2,974.3 388.2,975.1 393.2,976.0 398.2,976.9 403.2,977.9 408.2,978.9 413.3,979.9 418.3,981.0 423.3,982.0 428.3,983.1 433.3,984.2 438.3,985.3 443.3,986.5 448.3,987.7 453.3,989.0 458.3,990.3 463.3,991.6 468.3,993.0 473.3,994.3 478.3,995.6 483.3,996.8 488.3,997.9 493.3,999.0 514.2,1001.0 531.7,1000.3 545.8,998.8 559.0,997.0 559.0,1000.4 545.8,1001.7 531.7,1003.7 514.2,1005.3 493.3,1004.2 488.3,1003.6 483.3,1003.0 478.3,1002.4 473.3,1001.8 468.3,1001.1 463.3,1000.5 458.3,999.9 453.3,999.4 448.3,998.8 443.3,998.3 438.3,997.9 433.3,997.4 428.3,997.0 423.3,996.6 418.3,996.3 413.3,996.0 408.2,995.7 403.2,995.4 398.2,995.2 393.2,995.0 388.2,994.8 383.2,994.7 378.2,994.5 373.2,994.4 368.2,994.3 363.2,994.3 358.2,994.2 353.2,994.2 348.2,994.2 343.2,994.3 338.2,994.3 333.2,994.4 328.2,994.5 323.2,994.7 318.2,994.8 313.2,995.0 308.2,995.3 303.2,995.5 298.2,995.8 293.2,996.1 288.2,996.5 283.2,996.9 278.2,997.3 273.2,997.8 268.2,998.2 263.2,998.8 258.2,999.3 253.2,999.9 248.2,1000.5 243.1,1001.1 238.1,1001.8 233.1,1002.4 228.1,1003.1 223.1,1003.8 218.1,1004.5 213.1,1005.3 208.1,1006.0 203.1,1006.8 198.1,1007.5 193.1,1008.3 188.1,1009.1 183.1,1009.9 178.1,1010.6 173.1,1011.4 168.1,1012.2 163.1,1013.0" fill="#5a5a5a"/>
<line x1="76.8" x2="597.4" y1="994.8" y2="994.8" stroke="#000" stroke-width="1.2"/>
<polyline points="163.1,958.8 168.1,958.6 173.1,958.3 178.1,958.0 183.1,957.7 188.2,957.4 193.2,957.0 198.2,956.6 203.2,956.2 208.2,955.8 213.2,955.4 218.2,954.9 223.2,954.5 228.2,954.0 233.3,953.5 238.3,953.0 243.3,952.5 248.3,951.9 253.3,951.4 258.3,950.9 263.3,950.3 268.3,949.8 273.4,949.3 278.4,948.7 283.4,948.2 288.4,947.7 293.4,947.2 298.4,946.7 303.4,946.2 308.4,945.7 313.4,945.2 318.5,944.7 323.5,944.3 328.5,943.8 333.5,943.4 338.5,943.0 343.5,942.7 348.5,942.3 353.5,942.0 358.5,941.7 363.6,941.4 368.6,941.1 373.6,940.9 378.6,940.7 383.6,940.6 388.6,940.5 393.6,940.4 398.6,940.3 403.6,940.3 408.7,940.3 413.7,940.3 418.7,940.4 423.7,940.5 428.7,940.6 433.7,940.8 438.7,941.0 443.7,941.2 448.7,941.5 453.8,941.8 458.8,942.2 463.8,942.6 468.8,943.0 473.8,943.5 478.8,944.0 483.8,944.5 488.8,945.1 493.9,945.7 498.9,946.3 503.9,947.0 508.9,947.7 513.9,948.5 518.9,949.3 523.9,950.2 528.9,951.1 533.9,952.0 539.0,953.0 544.0,954.0 549.0,955.1 554.0,956.2 559.0,957.3" fill="none" stroke="#000" stroke-width="2.4" stroke-linejoin="miter" stroke-dasharray="5.6 4.85"/>
<polyline points="163.1,1020.2 168.1,1020.4 173.1,1020.6 178.1,1020.9 183.1,1021.1 188.2,1021.3 193.2,1021.5 198.2,1021.7 203.2,1021.9 208.2,1022.2 213.2,1022.4 218.2,1022.6 223.2,1022.8 228.2,1023.0 233.3,1023.2 238.3,1023.4 243.3,1023.6 248.3,1023.8 253.3,1024.0 258.3,1024.2 263.3,1024.4 268.3,1024.6 273.4,1024.8 278.4,1025.0 283.4,1025.2 288.4,1025.4 293.4,1025.6 298.4,1025.8 303.4,1026.0 308.4,1026.2 313.4,1026.4 318.5,1026.6 323.5,1026.8 328.5,1027.0 333.5,1027.2 338.5,1027.4 343.5,1027.6 348.5,1027.9 353.5,1028.1 358.5,1028.3 363.6,1028.5 368.6,1028.7 373.6,1028.9 378.6,1029.2 383.6,1029.4 388.6,1029.6 393.6,1029.8 398.6,1030.1 403.6,1030.3 408.7,1030.5 413.7,1030.8 418.7,1031.0 423.7,1031.3 428.7,1031.5 433.7,1031.8 438.7,1032.0 443.7,1032.2 448.7,1032.4 453.8,1032.7 458.8,1032.8 463.8,1033.0 468.8,1033.2 473.8,1033.3 478.8,1033.4 483.8,1033.4 488.8,1033.5 493.9,1033.5 498.9,1033.4 503.9,1033.3 508.9,1033.2 513.9,1033.0 518.9,1032.8 523.9,1032.5 528.9,1032.2 533.9,1031.7 539.0,1031.3 544.0,1030.7 549.0,1030.1 554.0,1029.5 559.0,1028.7" fill="none" stroke="#000" stroke-width="2.4" stroke-linejoin="miter" stroke-dasharray="23 8.2"/>
<polyline points="163.1,1007.5 168.1,1006.6 173.1,1005.7 178.1,1004.8 183.1,1003.9 188.1,1003.0 193.1,1002.1 198.1,1001.2 203.1,1000.4 208.1,999.5 213.1,998.7 218.1,997.8 223.1,997.0 228.1,996.2 233.1,995.5 238.1,994.7 243.1,994.0 248.2,993.3 253.2,992.6 258.2,991.9 263.2,991.3 268.2,990.7 273.2,990.1 278.2,989.5 283.2,989.0 288.2,988.5 293.2,988.0 298.2,987.6 303.2,987.2 308.2,986.9 313.2,986.5 318.2,986.2 323.2,986.0 328.2,985.8 333.2,985.6 338.2,985.5 343.2,985.4 348.2,985.3 353.2,985.3 358.2,985.4 363.2,985.5 368.2,985.6 373.2,985.8 378.2,986.1 383.2,986.4 388.2,986.7 393.2,987.0 398.2,987.4 403.2,987.9 408.2,988.3 413.3,988.8 418.3,989.3 423.3,989.8 428.3,990.4 433.3,990.9 438.3,991.4 443.3,992.0 448.3,992.6 453.3,993.1 458.3,993.7 463.3,994.2 468.3,994.7 473.3,995.2 478.3,995.7 483.3,996.2 488.3,996.6 493.3,997.0 514.2,996.3 531.7,992.0 545.8,986.7 559.0,979.2" fill="none" stroke="#000" stroke-width="3.3" stroke-linejoin="miter"/>
</g>
<rect x="76.8" y="10.3" width="520.6" height="1042.4" fill="none" stroke="#000" stroke-width="2.1"/><path d="M76.8 532.0L597.4 532.0M76.8 792.4L597.4 792.4" stroke="#000" stroke-width="2.2" fill="none"/><path d="M76.8 271.4L597.4 271.4" stroke="#000" stroke-width="3" fill="none"/>
<g font-family='"Liberation Sans", Arial, Helvetica, sans-serif' fill="#000" stroke="#000" stroke-width="0.35">
<text x="71.6" y="244.8" font-size="29" text-anchor="end">1</text>
<text x="71.6" y="172.3" font-size="29" text-anchor="end">3</text>
<text x="71.6" y="99.8" font-size="29" text-anchor="end">5</text>
<text x="71.6" y="27.3" font-size="29" text-anchor="end">7</text>
<text x="71.6" y="484.0" font-size="29" text-anchor="end">1</text>
<text x="71.6" y="368.2" font-size="29" text-anchor="end">3</text>
<text x="71.6" y="744.4" font-size="29" text-anchor="end">1</text>
<text x="71.6" y="628.7" font-size="29" text-anchor="end">3</text>
<text x="71.6" y="1004.7" font-size="29" text-anchor="end">1</text>
<text x="71.6" y="889.1" font-size="29" text-anchor="end">3</text>
<text x="276.2" y="1084.7" font-size="29" text-anchor="middle">0.1</text>
<text x="494.1" y="1084.7" font-size="29" text-anchor="middle">1</text>
<text x="312.8" y="1119.7" font-size="25.5">T<tspan font-size="18" dy="7.1" dx="0.8">9</tspan></text>
<text x="102.9" y="62.9" font-size="22">(a) CF88</text>
<text x="102.9" y="324.0" font-size="22">(b) NACRE</text>
<text x="102.9" y="584.6" font-size="22">(c) KU02</text>
<text x="102.9" y="845.0" font-size="22">(d) BU96</text>
<text transform="translate(19.3 249.9) rotate(-90)" font-size="22" letter-spacing="0.06">N<tspan font-size="16" dy="5.4" letter-spacing="-0.6">A</tspan><tspan dy="-3.8">&lt;</tspan><tspan dy="-1.6">σv</tspan><tspan dy="1.6">&gt;</tspan><tspan dy="-1.6"> / N</tspan><tspan font-size="16" dy="5.4" letter-spacing="-0.6">A</tspan><tspan dy="-3.8">&lt;</tspan><tspan dy="-1.6">σv</tspan><tspan dy="1.6">&gt;</tspan><tspan font-size="16" dy="3.8" letter-spacing="-0.6">CF88</tspan></text>
<text transform="translate(19.3 512.1) rotate(-90)" font-size="22" letter-spacing="0.06">N<tspan font-size="16" dy="5.4" letter-spacing="-0.6">A</tspan><tspan dy="-3.8">&lt;</tspan><tspan dy="-1.6">σv</tspan><tspan dy="1.6">&gt;</tspan><tspan dy="-1.6"> / N</tspan><tspan font-size="16" dy="5.4" letter-spacing="-0.6">A</tspan><tspan dy="-3.8">&lt;</tspan><tspan dy="-1.6">σv</tspan><tspan dy="1.6">&gt;</tspan><tspan font-size="16" dy="3.8" letter-spacing="-0.6">NACRE</tspan></text>
<text transform="translate(19.3 772.0) rotate(-90)" font-size="22" letter-spacing="0.06">N<tspan font-size="16" dy="5.4" letter-spacing="-0.6">A</tspan><tspan dy="-3.8">&lt;</tspan><tspan dy="-1.6">σv</tspan><tspan dy="1.6">&gt;</tspan><tspan dy="-1.6"> / N</tspan><tspan font-size="16" dy="5.4" letter-spacing="-0.6">A</tspan><tspan dy="-3.8">&lt;</tspan><tspan dy="-1.6">σv</tspan><tspan dy="1.6">&gt;</tspan><tspan font-size="16" dy="3.8" letter-spacing="-0.6">KU02</tspan></text>
<text transform="translate(19.3 1032.4) rotate(-90)" font-size="22" letter-spacing="0.06">N<tspan font-size="16" dy="5.4" letter-spacing="-0.6">A</tspan><tspan dy="-3.8">&lt;</tspan><tspan dy="-1.6">σv</tspan><tspan dy="1.6">&gt;</tspan><tspan dy="-1.6"> / N</tspan><tspan font-size="16" dy="5.4" letter-spacing="-0.6">A</tspan><tspan dy="-3.8">&lt;</tspan><tspan dy="-1.6">σv</tspan><tspan dy="1.6">&gt;</tspan><tspan font-size="16" dy="3.8" letter-spacing="-0.6">BU96</tspan></text>
</g>
</svg>
</body></html>
